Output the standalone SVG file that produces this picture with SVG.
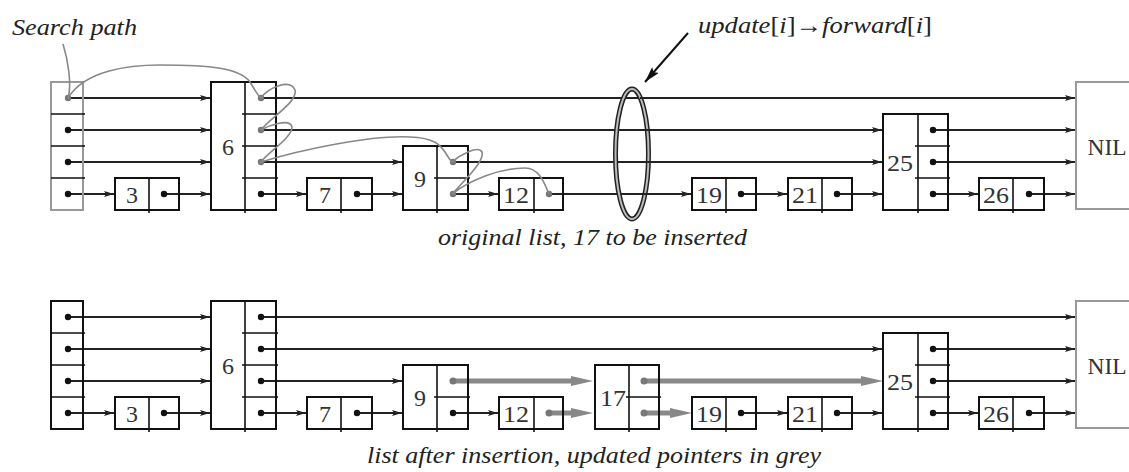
<svg xmlns="http://www.w3.org/2000/svg" width="1129" height="472" viewBox="0 0 1129 472">
<defs>
<style>
.box{fill:none;stroke:#111;stroke-width:2}
.gbox{fill:none;stroke:#999;stroke-width:2}
.sep{stroke:#111;stroke-width:1.6;fill:none}
.lbl{font-family:"Liberation Serif","Times New Roman",serif;font-size:24px;fill:#333;text-anchor:middle}
.dot{fill:#111}
.gdot{fill:#777}
.ln{stroke:#222;stroke-width:2;fill:none;marker-end:url(#ah)}
.seg{stroke:#222;stroke-width:2;fill:none}
.gl{stroke:#888;stroke-width:5;fill:none;stroke-linecap:round;marker-end:url(#gah)}
.sp{stroke:#888;stroke-width:1.6;fill:none}
.it{font-family:"Liberation Serif","Times New Roman",serif;font-style:italic;font-size:24px;fill:#222}
.rm{font-style:normal}
</style>
<marker id="ah" viewBox="0 0 10 6" markerWidth="10" markerHeight="6" refX="10" refY="3" orient="auto" markerUnits="userSpaceOnUse"><path d="M0,0 L10,3 L0,6 L2,3 z" fill="#222"/></marker>
<marker id="gah" viewBox="0 0 22 10" markerWidth="22" markerHeight="10" refX="4" refY="5" orient="auto" markerUnits="userSpaceOnUse"><path d="M0,0 L22,5 L0,10 z" fill="#888"/></marker>
<marker id="bigah" viewBox="0 0 16 9" markerWidth="16" markerHeight="9" refX="16" refY="4.5" orient="auto" markerUnits="userSpaceOnUse"><path d="M0,0 L16,4.5 L0,9 L3,4.5 z" fill="#111"/></marker>
</defs>
<rect width="1129" height="472" fill="#fff"/>

<g id="connectors">
<!-- top list -->
<path class="ln" d="M68,98 H210"/>
<path class="ln" d="M68,130 H210"/>
<path class="ln" d="M68,162 H210"/>
<path class="ln" d="M68,194 H114"/>
<path class="ln" d="M164,194 H210"/>
<path class="ln" d="M261,98 H1075"/>
<path class="ln" d="M261,130 H882"/>
<path class="ln" d="M261,162 H402"/>
<path class="ln" d="M261,194 H306"/>
<path class="ln" d="M357,194 H402"/>
<path class="ln" d="M453,162 H882"/>
<path class="ln" d="M453,194 H498"/>
<path class="ln" d="M549,194 H691"/>
<path class="ln" d="M741,194 H787"/>
<path class="ln" d="M837,194 H882"/>
<path class="ln" d="M933,130 H1075"/>
<path class="ln" d="M933,162 H1075"/>
<path class="ln" d="M933,194 H978"/>
<path class="ln" d="M1029,194 H1075"/>
<!-- bottom list -->
<path class="ln" d="M68,317 H210"/>
<path class="ln" d="M68,349 H210"/>
<path class="ln" d="M68,381 H210"/>
<path class="ln" d="M68,413 H114"/>
<path class="ln" d="M164,413 H210"/>
<path class="ln" d="M261,317 H1075"/>
<path class="ln" d="M261,349 H882"/>
<path class="ln" d="M261,381 H402"/>
<path class="ln" d="M261,413 H306"/>
<path class="ln" d="M357,413 H402"/>
<path class="ln" d="M453,413 H498"/>
<path class="ln" d="M741,413 H787"/>
<path class="ln" d="M837,413 H882"/>
<path class="ln" d="M933,349 H1075"/>
<path class="ln" d="M933,381 H1075"/>
<path class="ln" d="M933,413 H978"/>
<path class="ln" d="M1029,413 H1075"/>
<path class="gl" d="M453,381 H575"/>
<path class="gl" d="M549,413 H575"/>
<path class="gl" d="M644,381 H865"/>
<path class="gl" d="M644,413 H674"/>
</g>

<!-- top list nodes -->
<g id="top-header">
<rect class="gbox" x="51" y="82" width="32" height="128"/>
<path class="sep" d="M51,114 H85 M51,146 H85 M51,178 H85"/>
<circle class="gdot" cx="68" cy="98" r="3.2"/><circle class="dot" cx="68" cy="130" r="3.2"/><circle class="dot" cx="68" cy="162" r="3.2"/><circle class="dot" cx="68" cy="194" r="3.2"/>
</g>
<g id="top-node3">
<rect class="box" x="115" y="178" width="64" height="32"/><path class="sep" d="M149,178 V213"/>
<text class="lbl" x="132" y="203">3</text><circle class="dot" cx="164" cy="194" r="3.2"/>
</g>
<g id="top-node6">
<rect class="box" x="211" y="82" width="65" height="128"/><path class="sep" d="M245,82 V213 M242,114 H278 M242,146 H278 M242,178 H278"/>
<text class="lbl" x="228" y="155">6</text>
<circle class="gdot" cx="261" cy="98" r="3.2"/><circle class="gdot" cx="261" cy="130" r="3.2"/><circle class="gdot" cx="261" cy="162" r="3.2"/><circle class="dot" cx="261" cy="194" r="3.2"/>
</g>
<g id="top-node7">
<rect class="box" x="307" y="178" width="65" height="32"/><path class="sep" d="M341,178 V213"/>
<text class="lbl" x="325" y="203">7</text><circle class="dot" cx="357" cy="194" r="3.2"/>
</g>
<g id="top-node9">
<rect class="box" x="403" y="146" width="65" height="64"/><path class="sep" d="M437,146 V213 M434,178 H470"/>
<text class="lbl" x="420" y="187">9</text>
<circle class="gdot" cx="453" cy="162" r="3.2"/><circle class="gdot" cx="453" cy="194" r="3.2"/>
</g>
<g id="top-node12">
<rect class="box" x="499" y="178" width="64" height="32"/><path class="sep" d="M534,178 V213"/>
<text class="lbl" x="516" y="203" textLength="26" lengthAdjust="spacingAndGlyphs">12</text><circle class="gdot" cx="549" cy="194" r="3.2"/>
</g>
<g id="top-node19">
<rect class="box" x="692" y="178" width="64" height="32"/><path class="sep" d="M726,178 V213"/>
<text class="lbl" x="709" y="203" textLength="26" lengthAdjust="spacingAndGlyphs">19</text><circle class="dot" cx="741" cy="194" r="3.2"/>
</g>
<g id="top-node21">
<rect class="box" x="788" y="178" width="64" height="32"/><path class="sep" d="M822,178 V213"/>
<text class="lbl" x="805" y="203" textLength="26" lengthAdjust="spacingAndGlyphs">21</text><circle class="dot" cx="837" cy="194" r="3.2"/>
</g>
<g id="top-node25">
<rect class="box" x="883" y="114" width="65" height="96"/><path class="sep" d="M918,114 V213 M915,146 H950 M915,178 H950"/>
<text class="lbl" x="900" y="171" textLength="26" lengthAdjust="spacingAndGlyphs">25</text>
<circle class="dot" cx="933" cy="130" r="3.2"/><circle class="dot" cx="933" cy="162" r="3.2"/><circle class="dot" cx="933" cy="194" r="3.2"/>
</g>
<g id="top-node26">
<rect class="box" x="979" y="178" width="65" height="32"/><path class="sep" d="M1013,178 V213"/>
<text class="lbl" x="996" y="203" textLength="26" lengthAdjust="spacingAndGlyphs">26</text><circle class="dot" cx="1029" cy="194" r="3.2"/>
</g>
<g id="top-nil">
<rect class="gbox" x="1076" y="82" width="60" height="127"/>
<text class="lbl" x="1107" y="155" textLength="39" lengthAdjust="spacingAndGlyphs">NIL</text>
</g>

<!-- bottom list nodes -->
<g id="bot-header">
<rect class="box" x="51" y="301" width="32" height="128"/>
<path class="sep" d="M51,333 H85 M51,365 H85 M51,397 H85"/>
<circle class="dot" cx="68" cy="317" r="3.2"/><circle class="dot" cx="68" cy="349" r="3.2"/><circle class="dot" cx="68" cy="381" r="3.2"/><circle class="dot" cx="68" cy="413" r="3.2"/>
</g>
<g id="bot-node3">
<rect class="box" x="115" y="397" width="64" height="32"/><path class="sep" d="M149,397 V432"/>
<text class="lbl" x="132" y="422">3</text><circle class="dot" cx="164" cy="413" r="3.2"/>
</g>
<g id="bot-node6">
<rect class="box" x="211" y="301" width="65" height="128"/><path class="sep" d="M245,301 V432 M242,333 H278 M242,365 H278 M242,397 H278"/>
<text class="lbl" x="228" y="374">6</text>
<circle class="dot" cx="261" cy="317" r="3.2"/><circle class="dot" cx="261" cy="349" r="3.2"/><circle class="dot" cx="261" cy="381" r="3.2"/><circle class="dot" cx="261" cy="413" r="3.2"/>
</g>
<g id="bot-node7">
<rect class="box" x="307" y="397" width="65" height="32"/><path class="sep" d="M341,397 V432"/>
<text class="lbl" x="325" y="422">7</text><circle class="dot" cx="357" cy="413" r="3.2"/>
</g>
<g id="bot-node9">
<rect class="box" x="403" y="365" width="65" height="64"/><path class="sep" d="M437,365 V432 M434,397 H470"/>
<text class="lbl" x="420" y="406">9</text>
<circle class="gdot" cx="453" cy="381" r="3.5"/><circle class="dot" cx="453" cy="413" r="3.2"/>
</g>
<g id="bot-node12">
<rect class="box" x="499" y="397" width="64" height="32"/><path class="sep" d="M534,397 V432"/>
<text class="lbl" x="516" y="422" textLength="26" lengthAdjust="spacingAndGlyphs">12</text><circle class="gdot" cx="549" cy="413" r="3.5"/>
</g>
<g id="bot-node17">
<rect class="box" x="595" y="365" width="64" height="64"/><path class="sep" d="M629,365 V432 M626,397 H661"/>
<text class="lbl" x="613" y="406" textLength="26" lengthAdjust="spacingAndGlyphs">17</text>
<circle class="gdot" cx="644" cy="381" r="3.5"/><circle class="gdot" cx="644" cy="413" r="3.5"/>
</g>
<g id="bot-node19">
<rect class="box" x="692" y="397" width="64" height="32"/><path class="sep" d="M726,397 V432"/>
<text class="lbl" x="709" y="422" textLength="26" lengthAdjust="spacingAndGlyphs">19</text><circle class="dot" cx="741" cy="413" r="3.2"/>
</g>
<g id="bot-node21">
<rect class="box" x="788" y="397" width="64" height="32"/><path class="sep" d="M822,397 V432"/>
<text class="lbl" x="805" y="422" textLength="26" lengthAdjust="spacingAndGlyphs">21</text><circle class="dot" cx="837" cy="413" r="3.2"/>
</g>
<g id="bot-node25">
<rect class="box" x="883" y="333" width="65" height="96"/><path class="sep" d="M918,333 V432 M915,365 H950 M915,397 H950"/>
<text class="lbl" x="900" y="390" textLength="26" lengthAdjust="spacingAndGlyphs">25</text>
<circle class="dot" cx="933" cy="349" r="3.2"/><circle class="dot" cx="933" cy="381" r="3.2"/><circle class="dot" cx="933" cy="413" r="3.2"/>
</g>
<g id="bot-node26">
<rect class="box" x="979" y="397" width="65" height="32"/><path class="sep" d="M1013,397 V432"/>
<text class="lbl" x="996" y="422" textLength="26" lengthAdjust="spacingAndGlyphs">26</text><circle class="dot" cx="1029" cy="413" r="3.2"/>
</g>
<g id="bot-nil">
<rect class="gbox" x="1076" y="301" width="60" height="127"/>
<text class="lbl" x="1107" y="374" textLength="39" lengthAdjust="spacingAndGlyphs">NIL</text>
</g>

<!-- search path -->
<g id="search-path">
<path class="sp" d="M63,44 C68,60 72,85 68,98"/>
<path class="sp" d="M68,98 C85,70 130,65 160,65 C210,65 240,68 250,82 C255,90 258,96 261,98"/>
<path class="sp" d="M261,98 C268,88 290,78 295,90 C298,102 270,118 261,130 C270,125 290,118 292,127 C292,138 268,152 261,162 C300,150 370,135 410,137 C435,138 440,145 445,152 C448,157 450,160 452,162 C460,155 478,145 482,152 C485,162 460,185 452,194 C470,180 500,168 525,168 C540,168 545,185 549,194"/>
</g>

<g id="update-ring">
<ellipse cx="632" cy="154" rx="16.5" ry="65" fill="none" stroke="#222" stroke-width="5"/>
<ellipse cx="632" cy="154" rx="16.5" ry="65" fill="none" stroke="#bbb" stroke-width="2"/>
<path class="seg" d="M640,98 H655 M643,130 H655 M643,162 H655 M643,194 H655"/>
<path d="M688,33 L645,82" stroke="#111" stroke-width="2" fill="none" marker-end="url(#bigah)"/>
</g>

<g id="labels">
<text class="it" x="12" y="35" textLength="125" lengthAdjust="spacingAndGlyphs">Search path</text>
<text class="it" x="698" y="33" textLength="234" lengthAdjust="spacingAndGlyphs">update<tspan class="rm">[</tspan>i<tspan class="rm">]→</tspan>forward<tspan class="rm">[</tspan>i<tspan class="rm">]</tspan></text>
<text class="it" x="438" y="245" textLength="309" lengthAdjust="spacingAndGlyphs">original list, 17 to be inserted</text>
<text class="it" x="367" y="463" textLength="454" lengthAdjust="spacingAndGlyphs">list after insertion, updated pointers in grey</text>
</g>
</svg>
